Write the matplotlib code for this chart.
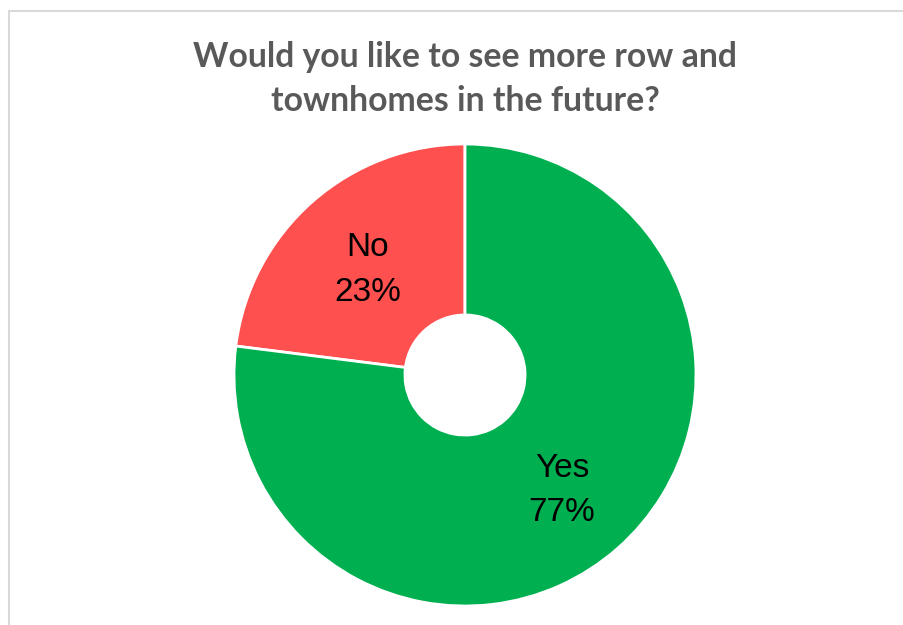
import matplotlib
matplotlib.use("Agg")
import matplotlib.pyplot as plt
from matplotlib.patches import Rectangle

# survey answers
answers = ['No', 'Yes']
shares = [23, 77]
colors = ['#FF5050', '#00B050']
title = 'Would you like to see more row and\ntownhomes in the future?'

W, H = 904, 625
fig = plt.figure(figsize=(W / 100, H / 100), dpi=100)

# chart frame (runs off the right and bottom edges)
fig.patches.append(Rectangle((9 / W, -0.1), 1.2, 1 - 11 / H + 0.1,
                             transform=fig.transFigure, fill=False,
                             edgecolor='#D9D9D9', linewidth=1.5))

cx, cy, r = 465, 375, 231
ax = fig.add_axes([(cx - r) / W, (H - cy - r) / H, 2 * r / W, 2 * r / H])

wedges, _, pct_texts = ax.pie(
    shares, colors=colors, startangle=90, counterclock=True,
    autopct='%1.0f%%', pctdistance=0.635,
    wedgeprops=dict(width=0.74, edgecolor='white', linewidth=2),
    textprops=dict(fontsize=24, family='Liberation Sans', color='black'))

# category name above the percentage, nudged down a little
for t, name in zip(pct_texts, answers):
    t.set_text(f'{name}\n{t.get_text()}')
    t.set_linespacing(1.55)
    t.set_y(t.get_position()[1] - 0.022)

ax.set_xlim(-1, 1)
ax.set_ylim(-1, 1)
ax.set_aspect('equal')
ax.axis('off')

fig.text(cx / W, 1 - 79 / H, title, ha='center', va='center',
         fontsize=24.3, fontweight='bold', family='Lato', color='#595959',
         linespacing=1.45)

fig.savefig('out.png', dpi=100)
